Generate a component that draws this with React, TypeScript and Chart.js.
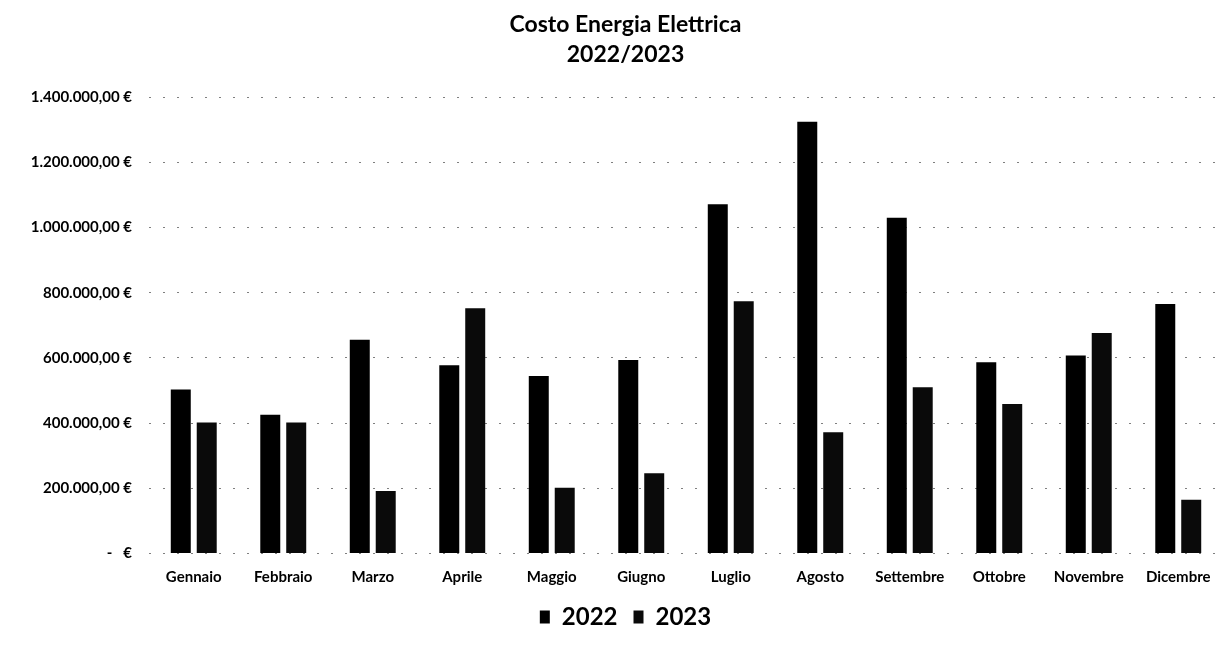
import React, { useEffect, useRef } from "react";
import { Chart, registerables } from "chart.js";

Chart.register(...registerables);

const months = [
  "Gennaio", "Febbraio", "Marzo", "Aprile", "Maggio", "Giugno",
  "Luglio", "Agosto", "Settembre", "Ottobre", "Novembre", "Dicembre",
];

const costs2022 = [503000, 426000, 656000, 578000, 545000, 594000, 1072000, 1325000, 1030000, 587000, 608000, 766000];
const costs2023 = [402000, 402000, 192000, 753000, 202000, 246000, 774000, 372000, 510000, 459000, 677000, 165000];

const yTickLabels = [
  "-   €",
  "200.000,00 €",
  "400.000,00 €",
  "600.000,00 €",
  "800.000,00 €",
  "1.000.000,00 €",
  "1.200.000,00 €",
  "1.400.000,00 €",
];

const titleLines = ["Costo Energia Elettrica", "2022/2023"];
const seriesNames = ["2022", "2023"];

const FONT = "Lato, 'Open Sans', sans-serif";

export default function App() {
  const canvasRef = useRef<HTMLCanvasElement | null>(null);

  useEffect(() => {
    if (!canvasRef.current) return;
    const chart = new Chart(canvasRef.current, {
      type: "bar",
      data: {
        labels: months,
        datasets: [
          {
            label: seriesNames[0],
            data: costs2022,
            backgroundColor: "#000000",
            borderWidth: 0,
            categoryPercentage: 0.58,
            barPercentage: 0.77,
          },
          {
            label: seriesNames[1],
            data: costs2023,
            backgroundColor: "#0a0a0a",
            borderWidth: 0,
            categoryPercentage: 0.58,
            barPercentage: 0.77,
          },
        ],
      },
      options: {
        animation: false,
        responsive: true,
        maintainAspectRatio: false,
        layout: { padding: { left: 28, right: 8, top: 0, bottom: 8 } },
        plugins: {
          title: {
            display: true,
            text: titleLines,
            color: "#000",
            font: { family: FONT, size: 23, weight: "bold", lineHeight: 1.3 },
            padding: { top: 10, bottom: 27.5 },
          },
          legend: {
            display: true,
            position: "bottom",
            labels: {
              color: "#000",
              font: { family: FONT, size: 24, weight: "bold" },
              boxWidth: 10,
              boxHeight: 13,
              padding: 16,
            },
          },
          tooltip: { enabled: false },
        },
        scales: {
          x: {
            grid: { display: false, drawTicks: false },
            border: { display: false },
            afterFit: (scale: any) => {
              scale.height = 35.5;
            },
            ticks: {
              color: "#000",
              font: { family: FONT, size: 15, weight: "bold" },
              padding: 15,
              maxRotation: 0,
              autoSkip: false,
            },
          },
          y: {
            min: 0,
            max: 1400000,
            afterFit: (scale: any) => {
              scale.width = 121;
            },
            border: { display: false, dash: [2, 12] },
            grid: {
              color: "rgba(0,0,0,0.5)",
              lineWidth: 1,
              tickLength: 0,
            },
            ticks: {
              stepSize: 200000,
              color: "#000",
              font: { family: FONT, size: 15, weight: "bold" },
              padding: 17,
              callback: (_v: any, i: number) => yTickLabels[i],
            },
          },
        },
      },
    } as any);
    return () => chart.destroy();
  }, []);

  return (
    <div style={{ position: "absolute", left: 0, top: 0, width: 1231, height: 647, background: "#fff" }}>
      <canvas ref={canvasRef} />
    </div>
  );
}
